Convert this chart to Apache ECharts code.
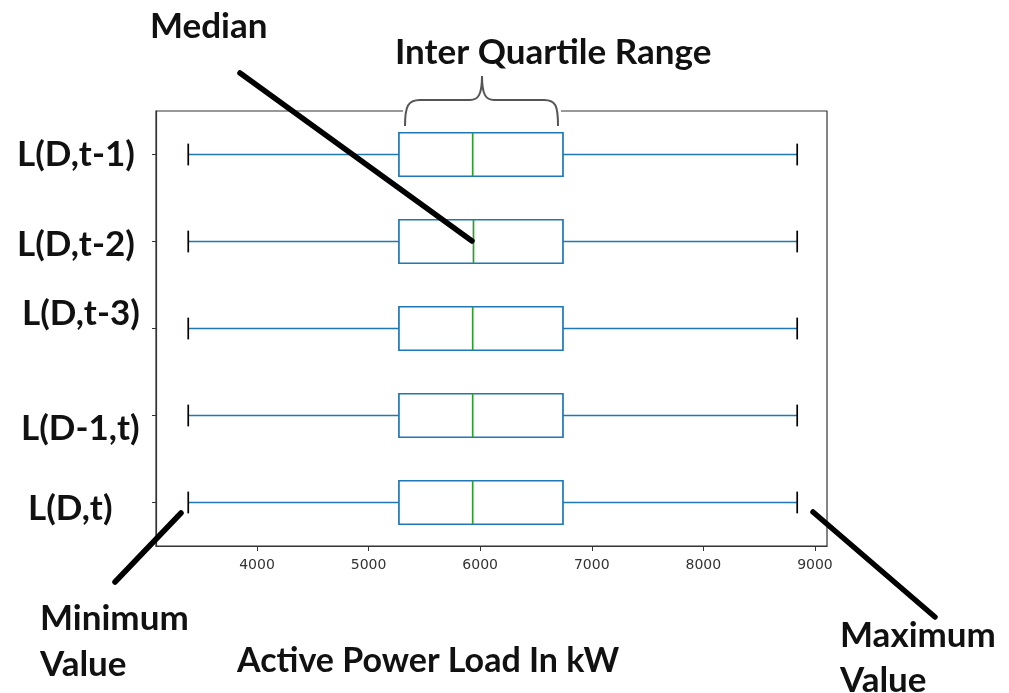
<!DOCTYPE html>
<html>
<head>
<meta charset="utf-8">
<script src="https://cdn.jsdelivr.net/npm/echarts@6/dist/echarts.min.js"></script>
<style>
  html, body { margin: 0; padding: 0; background: #ffffff; }
  #chart { width: 1009px; height: 693px; }
</style>
</head>
<body>
<div id="chart"></div>
<script>
// Lag features, listed from bottom row to top row
const categories = ['L(D,t)', 'L(D-1,t)', 'L(D,t-3)', 'L(D,t-2)', 'L(D,t-1)'];
// Five-number summaries of active power load (kW) for each feature
const minValues    = [3384, 3384, 3384, 3384, 3384];
const q1Values     = [5272, 5272, 5272, 5272, 5272];
const medianValues = [5933, 5933, 5933, 5940, 5933];
const q3Values     = [6742, 6742, 6742, 6742, 6742];
const maxValues    = [8841, 8841, 8841, 8841, 8841];
// Tick labels on the load axis
const xTicks = [4000, 5000, 6000, 7000, 8000, 9000];

const BLUE = '#1f77b4';
const GREEN = '#2ca02c';
const INK = '#111111';
const FONT = 'bold 35px Lato, "Open Sans", sans-serif';
const FONT_TITLE = 'bold 34px Lato, "Open Sans", sans-serif';

const boxData = categories.map((c, i) =>
  [i, minValues[i], q1Values[i], medianValues[i], q3Values[i], maxValues[i]]);

function renderBox(params, api) {
  const idx = api.value(0);
  const band = api.size([0, 1])[1];
  const half = band * 0.25;
  const capHalf = band * 0.125;
  const pMin = api.coord([api.value(1), idx]);
  const pQ1 = api.coord([api.value(2), idx]);
  const pMed = api.coord([api.value(3), idx]);
  const pQ3 = api.coord([api.value(4), idx]);
  const pMax = api.coord([api.value(5), idx]);
  const y = pMin[1];
  const lw = 1.7;
  const line = (x1, y1, x2, y2, color) => ({
    type: 'line',
    shape: { x1, y1, x2, y2 },
    style: { stroke: color, lineWidth: lw }
  });
  return {
    type: 'group',
    children: [
      line(pMin[0], y, pQ1[0], y, BLUE),
      line(pQ3[0], y, pMax[0], y, BLUE),
      {
        type: 'rect',
        shape: { x: pQ1[0], y: y - half, width: pQ3[0] - pQ1[0], height: half * 2 },
        style: { fill: 'none', stroke: BLUE, lineWidth: lw }
      },
      line(pMed[0], y - half, pMed[0], y + half, GREEN),
      line(pMin[0], y - capHalf, pMin[0], y + capHalf, '#000000'),
      line(pMax[0], y - capHalf, pMax[0], y + capHalf, '#000000')
    ]
  };
}

const chart = echarts.init(document.getElementById('chart'), null, { renderer: 'canvas' });

// Annotation text items: [text, x, y, font]
const notes = [
  ['Median', 150, 27, FONT],
  ['Inter Quartile Range', 395, 53, FONT],
  ['Minimum', 40, 619, FONT],
  ['Value', 40, 665, FONT],
  ['Active Power Load In kW', 237, 661, FONT_TITLE],
  ['Maximum', 840, 636, FONT],
  ['Value', 840, 681, FONT]
];
// Row label placement, same order as categories
const rowLabelPos = [[28, 509], [21, 429], [22, 314], [17, 245], [17, 155]];

const graphics = [];
// white patch behind the brace
graphics.push({
  type: 'rect', z: 90,
  shape: { x: 403, y: 70, width: 158, height: 57 },
  style: { fill: '#ffffff' }
});
// curly brace over the box, built from curve and line pieces
const braceStyle = { fill: 'none', stroke: '#555555', lineWidth: 2 };
const braceCurves = [
  [405, 126, 420, 100, 405, 106, 408, 100],
  [470, 100, 482, 76, 478, 100, 482, 95],
  [482, 76, 494, 100, 482, 95, 486, 100],
  [544, 100, 558, 126, 556, 100, 558, 106]
];
braceCurves.forEach(b => {
  graphics.push({
    type: 'bezierCurve', z: 95,
    shape: { x1: b[0], y1: b[1], x2: b[2], y2: b[3], cpx1: b[4], cpy1: b[5], cpx2: b[6], cpy2: b[7] },
    style: braceStyle
  });
});
[[420, 100, 470, 100], [494, 100, 544, 100]].forEach(s => {
  graphics.push({
    type: 'line', z: 95,
    shape: { x1: s[0], y1: s[1], x2: s[2], y2: s[3] },
    style: braceStyle
  });
});
// pointer lines
[[240, 73, 472, 241], [115, 582, 181, 513], [813, 512, 935, 617]].forEach(s => {
  graphics.push({
    type: 'line', z: 100,
    shape: { x1: s[0], y1: s[1], x2: s[2], y2: s[3] },
    style: { stroke: '#000000', lineWidth: 5.5, lineCap: 'round' }
  });
});
notes.forEach(n => {
  graphics.push({
    type: 'text', z: 100,
    style: { text: n[0], x: n[1], y: n[2], font: n[3], fill: INK,
             textAlign: 'left', textVerticalAlign: 'middle' }
  });
});
categories.forEach((c, i) => {
  graphics.push({
    type: 'text', z: 100,
    style: { text: c, x: rowLabelPos[i][0], y: rowLabelPos[i][1], font: FONT, fill: INK,
             textAlign: 'left', textVerticalAlign: 'middle' }
  });
});

chart.setOption({
  animation: false,
  backgroundColor: '#ffffff',
  grid: {
    left: 156, top: 111, width: 671, height: 435,
    show: true, borderColor: '#333333', borderWidth: 1.2, backgroundColor: 'transparent'
  },
  xAxis: {
    type: 'value',
    min: 3095, max: 9108,
    axisLine: { show: true, lineStyle: { color: '#333333', width: 1.2 } },
    axisTick: { show: true, length: 5, customValues: xTicks, lineStyle: { color: '#333333' } },
    axisLabel: {
      customValues: xTicks, color: '#333333', fontSize: 14,
      fontFamily: '"DejaVu Sans", sans-serif', margin: 12,
      formatter: v => String(v)
    },
    splitLine: { show: false }
  },
  yAxis: {
    type: 'category',
    data: categories,
    axisLine: { show: true, lineStyle: { color: '#333333', width: 1.2 } },
    axisTick: { show: true, length: 4, alignWithLabel: true, lineStyle: { color: '#333333' } },
    axisLabel: { show: false },
    splitLine: { show: false }
  },
  series: [{
    type: 'custom',
    renderItem: renderBox,
    encode: { x: [1, 2, 3, 4, 5], y: 0 },
    data: boxData,
    z: 5
  }],
  graphic: graphics
});
</script>
</body>
</html>
